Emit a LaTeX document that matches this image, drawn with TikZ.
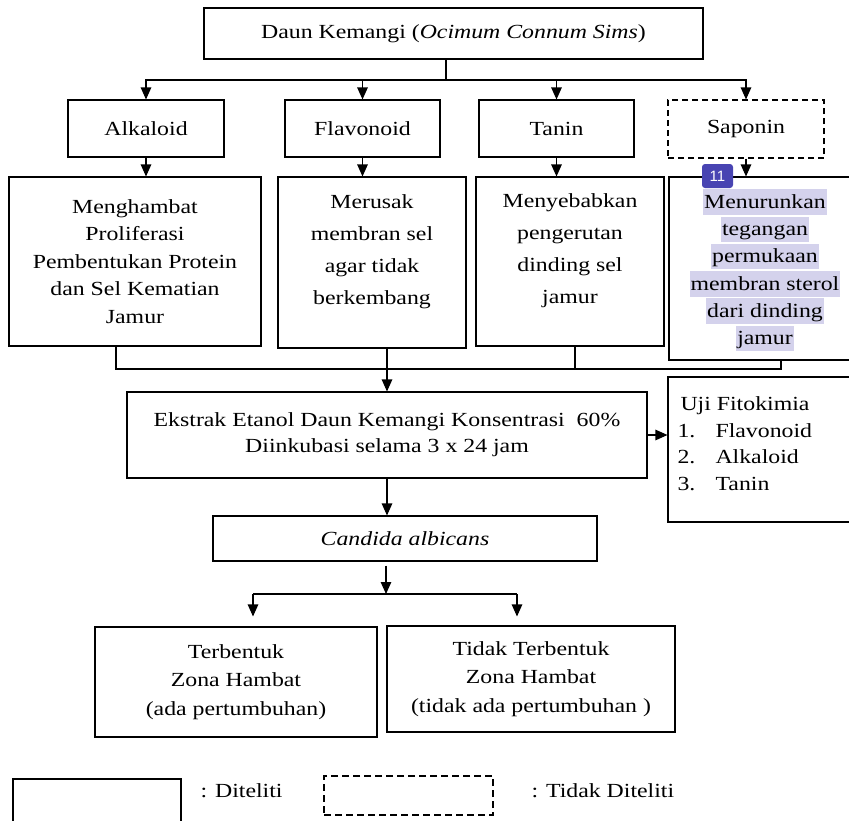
\documentclass[tikz,border=0pt]{standalone}
\usepackage{fontspec}
\setmainfont{Liberation Serif}[FakeStretch=1.19]
\newfontfamily\badgefont{Liberation Sans}
\usetikzlibrary{arrows.meta}
\definecolor{sorot}{RGB}{212,210,236}
\definecolor{lencanabiru}{RGB}{72,68,178}

\begin{document}
\begin{tikzpicture}[x=1pt, y=-1pt, line width=1.1pt,
	box/.style={draw, inner sep=0pt, align=center},
	arr/.style={-{Triangle[length=12pt, width=10.5pt]}},
	sorotbaris/.style={fill=sorot, inner xsep=1pt, inner ysep=0pt, text height=19pt, text depth=6.5pt}]
	\fontsize{20}{27.6}\selectfont
	\useasboundingbox (0,0) rectangle (849,820);
	\clip (0,0) rectangle (849,820);
	
	\node [box, minimum width=499pt, minimum height=51pt] (daun) at (453.5, 33.5) {Daun Kemangi (\textit{Ocimum Connum Sims})};	% Kotak atas
	
	\node [box, minimum width=156pt, minimum height=57pt] (alk) at (146, 128.5) {Alkaloid};
	\node [box, minimum width=155pt, minimum height=57pt] (flav) at (362.5, 128.5) {Flavonoid};
	\node [box, minimum width=155pt, minimum height=57pt] (tan) at (556.5, 128.5) {Tanin};
	\node [box, minimum width=156pt, minimum height=58pt, dash pattern=on 6pt off 4pt] (sap) at (746, 129) {Saponin};	% tidak diteliti
	
	\coordinate (cabang) at (446, 80);						% titik cabang
	\draw (daun.south -| cabang) -- (cabang);
	\draw [arr] (cabang) -| (alk.north);
	\draw [arr] (cabang) -| (flav.north);
	\draw [arr] (cabang) -| (tan.north);
	\draw [arr] (cabang) -| (sap.north);
	
	\node [box, minimum width=252pt, minimum height=169pt] (efek1) at (135, 261.5) {Menghambat\\Proliferasi\\Pembentukan Protein\\dan Sel Kematian\\Jamur};
	\node [box, minimum width=188pt, minimum height=171pt] (efek2) at (372, 262.5) {};
	\node [align=center] (teks2) at (372, 251.5) {Merusak\\[4.5pt]membran sel\\[4.5pt]agar tidak\\[4.5pt]berkembang};
	\node [box, minimum width=188pt, minimum height=169pt] (efek3) at (570, 261.5) {};
	\node [align=center] (teks3) at (570, 250.5) {Menyebabkan\\[4.5pt]pengerutan\\[4.5pt]dinding sel\\[4.5pt]jamur};
	\node [box, minimum width=250pt, minimum height=183pt] (efek4) at (794, 268.5) {};
	
	\draw [arr] (alk.south) -- (alk.south |- efek1.north);
	\draw [arr] (flav.south) -- (flav.south |- efek2.north);
	\draw [arr] (tan.south) -- (tan.south |- efek3.north);
	\draw [arr] (sap.south) -- (sap.south |- efek4.north);
	
	% Teks yang disorot
	\node [sorotbaris] (s1) at (765, 202) {Menurunkan};
	\node [sorotbaris] (s2) at (765, 229.3) {tegangan};
	\node [sorotbaris] (s3) at (765, 256.6) {permukaan};
	\node [sorotbaris] (s4) at (765, 283.9) {membran sterol};
	\node [sorotbaris] (s5) at (765, 311.2) {dari dinding};
	\node [sorotbaris] (s6) at (765, 338.5) {jamur};
	\node [fill=lencanabiru, rounded corners=3pt, text=white, font=\badgefont\fontsize{15}{15}\selectfont, minimum width=31pt, minimum height=24pt, inner sep=0pt] (lencana) at (717.5, 176) {11};
	
	\coordinate (g1) at (116, 369);
	\coordinate (g3) at (575, 369);
	\coordinate (g4) at (781, 369);
	\draw (efek1.south -| g1) -- (g1) -- (g4) -- (efek4.south -| g4);	% garis gabung
	\draw (efek3.south -| g3) -- (g3);
	
	\node [box, minimum width=520pt, minimum height=86pt] (ekstrak) at (387, 435) {Ekstrak Etanol Daun Kemangi Konsentrasi~ 60\%\\[-1.5pt]Diinkubasi selama 3 x 24 jam};
	\draw [arr] (efek2.south -| ekstrak.north) -- (ekstrak.north);
	
	\node [box, minimum width=250pt, minimum height=145pt] (uji) at (793, 449.5) {};
	\node [anchor=north west, align=left, inner sep=0pt] (ujiteks) at (677, 396) {\hspace*{3pt}Uji Fitokimia\\[-1pt]\makebox[38pt][l]{1.}Flavonoid\\[-1pt]\makebox[38pt][l]{2.}Alkaloid\\[-1pt]\makebox[38pt][l]{3.}Tanin};
	\draw [arr] (ekstrak.east) -- (ekstrak.east -| uji.west);
	
	\node [box, minimum width=384pt, minimum height=45pt] (candida) at (405, 538.5) {\textit{Candida albicans}};
	\draw [arr] (ekstrak.south) -- (ekstrak.south |- candida.north);
	
	\node [box, minimum width=282pt, minimum height=110pt] (hasil1) at (236, 682) {Terbentuk\\[1pt]Zona Hambat\\[1pt](ada pertumbuhan)};
	\node [box, minimum width=288pt, minimum height=106pt] (hasil2) at (531, 679) {Tidak Terbentuk\\[1pt]Zona Hambat\\[1pt](tidak ada pertumbuhan )};
	
	\coordinate (cabang2) at (386, 594);
	\coordinate (k1) at (253, 594);
	\coordinate (k2) at (517, 594);
	\draw [arr] ([yshift=-4pt]candida.south -| cabang2) -- (cabang2);
	\draw (k1) -- (k2);
	\draw [arr, shorten >=10pt] (k1) -- (k1 |- hasil1.north);
	\draw [arr, shorten >=9pt] (k2) -- (k2 |- hasil2.north);
	
	% Keterangan
	\node [box, minimum width=168pt, minimum height=62pt] (ket1) at (97, 810) {};
	\node [anchor=west, inner sep=0pt] (ket1teks) at (200, 791) {: Diteliti};
	\node [box, minimum width=169pt, minimum height=39pt, line width=2.5pt, dash pattern=on 7pt off 4pt] (ket2) at (408.5, 795.5) {};
	\node [anchor=west, inner sep=0pt] (ket2teks) at (531, 791) {: Tidak Diteliti};

\end{tikzpicture}
\end{document}
